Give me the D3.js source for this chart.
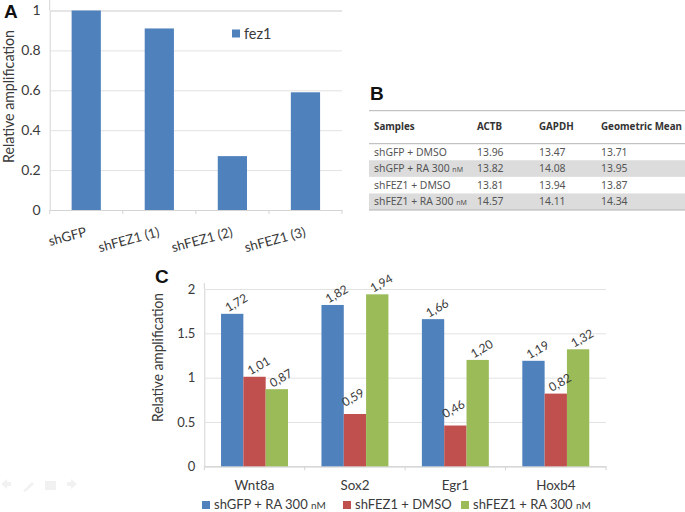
<!DOCTYPE html>
<html><head><meta charset="utf-8">
<script src="https://cdn.jsdelivr.net/npm/d3@7"></script>
<style>
html,body{margin:0;padding:0;background:#fff}
svg{display:block}
text{font-family:Lato,"Open Sans",sans-serif;fill:#3a3a3a}
.panel{font-family:"Liberation Sans",sans-serif;font-weight:bold;font-size:19px;fill:#111}
.tbl{font-family:"Noto Sans",sans-serif;font-size:10.4px;fill:#555}
.tblh{font-family:"Noto Sans",sans-serif;font-size:9.8px;font-weight:bold;fill:#333}
</style></head><body>
<svg id="c" width="685" height="512"></svg>
<script>
const aCategories=["shGFP","shFEZ1 (1)","shFEZ1 (2)","shFEZ1 (3)"];
const aValues=[1,0.91,0.27,0.59];
const aTicks=[0,0.2,0.4,0.6,0.8,1];
const aSeries="fez1";

const tColumns=["Samples","ACTB","GAPDH","Geometric Mean"];
const tSamples=[["shGFP + DMSO",""],["shGFP + RA 300 ","nM"],["shFEZ1 + DMSO",""],["shFEZ1 + RA 300 ","nM"]];
const tActb=["13.96","13.82","13.81","14.57"];
const tGapdh=["13.47","14.08","13.94","14.11"];
const tGeo=["13.71","13.95","13.87","14.34"];

const cCategories=["Wnt8a","Sox2","Egr1","Hoxb4"];
const cSeriesNames=[["shGFP + RA 300 ","nM"],["shFEZ1 + DMSO",""],["shFEZ1 + RA 300 ","nM"]];
const cSeries1=[1.72,1.82,1.66,1.19];
const cSeries2=[1.01,0.59,0.46,0.82];
const cSeries3=[0.87,1.94,1.20,1.32];
const cTicks=[0,0.5,1,1.5,2];
const colors=["#4f81bd","#c0504d","#9bbb59"];

const svg=d3.select("#c");
const grid="#e2e2e2", axisC="#d4d4d4";

function frame(g,x,y,ticks,fmt,fs){
  const [x0,x1]=x.range();
  const ax=g.append("g").attr("transform",`translate(${x0},0)`)
    .call(d3.axisLeft(y).tickValues(ticks).tickFormat(fmt).tickSize(-(x1-x0)).tickPadding(9));
  ax.select(".domain").attr("stroke",axisC);
  ax.selectAll(".tick line").attr("stroke",grid).attr("stroke-width",1);
  ax.selectAll("text").style("font-size",fs+"px").style("fill","#3a3a3a").style("font-family","Lato");
  const bx=g.append("g").attr("transform",`translate(0,${y(0)})`)
    .call(d3.axisBottom(x).tickFormat("").tickSize(0));
  bx.select(".domain").attr("stroke",axisC);
  x.domain().forEach((d,i)=>{
    g.append("line").attr("x1",x0+i*x.step()).attr("x2",x0+i*x.step())
     .attr("y1",y(0)).attr("y2",y(0)+4).attr("stroke",axisC);
  });
  g.append("line").attr("x1",x1).attr("x2",x1).attr("y1",y(0)).attr("y2",y(0)+4).attr("stroke",axisC);
}

// Panel A
{
  const g=svg.append("g");
  const x=d3.scaleBand().domain(aCategories).range([49.7,342]).paddingInner(0).paddingOuter(0);
  const y=d3.scaleLinear().domain([0,1]).range([210,10.5]);
  g.append("line").attr("x1",49.7).attr("x2",49.7).attr("y1",0).attr("y2",10.5).attr("stroke",axisC);
  frame(g,x,y,aTicks,d3.format("~g"),14);
  g.selectAll("rect.a").data(aCategories).join("rect").attr("class","a")
    .attr("x",d=>x(d)+x.bandwidth()*0.3).attr("width",x.bandwidth()*0.4)
    .attr("y",(d,i)=>y(aValues[i])).attr("height",(d,i)=>y(0)-y(aValues[i])).attr("fill",colors[0]);
  g.selectAll("text.al").data(aCategories).join("text").attr("class","al")
    .attr("text-anchor","end").style("font-size","13.4px")
    .attr("transform",d=>`translate(${x(d)+x.bandwidth()/2+1},${236}) rotate(-15)`).text(d=>d);
  g.append("rect").attr("x",232).attr("y",29.5).attr("width",8).attr("height",8).attr("fill",colors[0]);
  g.append("text").attr("x",244).attr("y",39).style("font-size","14.5px").text(aSeries);
  g.append("text").style("font-size","15.5px").attr("transform","translate(14,163) rotate(-90)")
    .attr("text-anchor","start").attr("textLength",133).attr("lengthAdjust","spacingAndGlyphs").text("Relative amplification");
  svg.append("text").attr("class","panel").attr("x",4).attr("y",18).text("A");
}

// Panel B
{
  const g=svg.append("g");
  const rowY=d3.scaleBand().domain(d3.range(4)).range([143.7,210]);
  const colX=d3.scaleOrdinal().domain(tColumns).range([374,477,539,601]);
  [1,3].forEach(i=>g.append("rect").attr("x",369).attr("width",316).attr("y",rowY(i)).attr("height",rowY.bandwidth()).attr("fill","#dcdcdc"));
  [110.7,143.7,210].forEach(v=>g.append("line").attr("x1",369).attr("x2",685).attr("y1",v).attr("y2",v).attr("stroke","#b4b4b4"));
  tColumns.forEach(c=>g.append("text").attr("class","tblh").attr("x",colX(c)).attr("y",130).text(c));
  const tx=(i,col,s)=>g.append("text").attr("class","tbl").attr("x",colX(col)).attr("y",rowY(i)+rowY.bandwidth()/2+3.7).text(s);
  tSamples.forEach((s,i)=>{
    const t=tx(i,tColumns[0],s[0]);
    if(s[1]) t.append("tspan").style("font-size","7px").text(s[1]);
    tx(i,tColumns[1],tActb[i]);tx(i,tColumns[2],tGapdh[i]);tx(i,tColumns[3],tGeo[i]);
  });
  svg.append("text").attr("class","panel").attr("x",370).attr("y",100).text("B");
}

// Panel C
{
  const g=svg.append("g");
  const x=d3.scaleBand().domain(cCategories).range([204.3,606]);
  const y=d3.scaleLinear().domain([0,2]).range([466.3,289]);
  const sub=d3.scaleBand().domain([0,1,2]).range([0,x.bandwidth()]).paddingOuter(0.75).paddingInner(0);
  g.append("line").attr("x1",204.3).attr("x2",204.3).attr("y1",283).attr("y2",289).attr("stroke",axisC);
  frame(g,x,y,cTicks,d3.format("~g"),13);
  const all=[cSeries1,cSeries2,cSeries3];
  all.forEach((vals,s)=>{
    g.selectAll("rect.s"+s).data(cCategories).join("rect").attr("class","s"+s)
      .attr("x",d=>x(d)+sub(s)).attr("width",sub.bandwidth())
      .attr("y",(d,i)=>y(vals[i])).attr("height",(d,i)=>y(0)-y(vals[i])).attr("fill",colors[s]);
  });
  all.forEach((vals,s)=>{
    // the two lowest labels sit further up and to the left, centred over their bars
    const low=v=>v<0.6;
    g.selectAll("text.v"+s).data(cCategories).join("text").attr("class","v"+s)
      .attr("text-anchor","start").style("font-size","12px")
      .attr("transform",(d,i)=>{
        const v=vals[i], cx=x(d)+sub(s)+sub.bandwidth()/2;
        return `translate(${cx+(low(v)?-10:-4)},${y(v)-(low(v)?7:1.5)}) rotate(-30)`;
      })
      .text((d,i)=>vals[i].toFixed(2).replace(".",","));
  });
  g.selectAll("text.cl").data(cCategories).join("text").attr("class","cl")
    .attr("text-anchor","middle").style("font-size","13.4px")
    .attr("x",d=>x(d)+x.bandwidth()/2).attr("y",490).text(d=>d);
  g.append("text").style("font-size","14.5px").attr("transform","translate(163,422) rotate(-90)")
    .attr("textLength",129).attr("lengthAdjust","spacingAndGlyphs").text("Relative amplification");
  const lx=d3.scaleOrdinal().domain([0,1,2]).range([202,343,461]);
  cSeriesNames.forEach((n,i)=>{
    g.append("rect").attr("x",lx(i)).attr("y",501).attr("width",8).attr("height",8).attr("fill",colors[i]);
    const t=g.append("text").attr("x",lx(i)+12).attr("y",508.5).style("font-size","13px").text(n[0]);
    if(n[1]) t.append("tspan").style("font-size","10px").text(n[1]);
  });
  svg.append("text").attr("class","panel").attr("x",155).attr("y",283).text("C");
}

// Faint slide-navigation icons
{
  const g=svg.append("g").attr("fill","#f1f1f1");
  g.append("path").attr("d","M1 484l6-5v3h4v4H7v3z");
  g.append("path").attr("d","M23 491l9-9 2 2-9 8z");
  g.append("rect").attr("x",45).attr("y",481).attr("width",11).attr("height",9);
  g.append("path").attr("d","M77 484l-6-5v3h-4v4h4v3z");
}
</script></body></html>
